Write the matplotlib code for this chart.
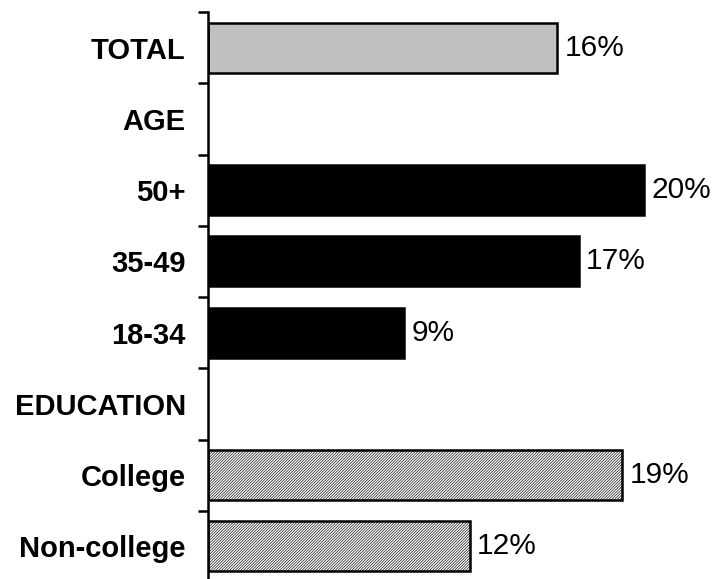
import numpy as np
import matplotlib
matplotlib.use('Agg')
import matplotlib.pyplot as plt

plt.rcParams['font.family'] = ['Liberation Sans', 'DejaVu Sans']
plt.rcParams['hatch.linewidth'] = 0.45
plt.rcParams['hatch.color'] = 'black'

# Share of respondents by group; header rows carry no value
categories = ["TOTAL", "AGE", "50+", "35-49", "18-34", "EDUCATION", "College", "Non-college"]
values = [16, np.nan, 20, 17, 9, np.nan, 19, 12]
groups = ["total", None, "age", "age", "age", None, "edu", "edu"]

styles = {
    "total": dict(color="#c0c0c0", hatch=None),
    "age": dict(color="black", hatch=None),
    "edu": dict(color="white", hatch="/" * 12),
}

fig = plt.figure(figsize=(7.13, 5.79), dpi=100)
ax = fig.add_axes([208 / 713, -3 / 579, 505 / 713, 570 / 579])

y = np.arange(len(categories))
for yi, val, grp in zip(y, values, groups):
    if grp is None or np.isnan(val):
        continue
    st = styles[grp]
    ax.barh(yi, val, height=0.7, color=st["color"], hatch=st["hatch"],
            edgecolor="black", linewidth=1.8)
    ax.text(val + 0.35, yi, f"{val:.0f}%", va="center", ha="left", fontsize=21.5)

ax.set_xlim(0, 505 / 21.8)
ax.set_ylim(len(categories) - 0.5, -0.5)

ax.set_yticks(y)
ax.set_yticklabels(categories, fontsize=21, fontweight="bold")
ax.tick_params(axis="y", which="major", length=0, pad=16)
ax.set_yticks(np.arange(len(categories)) - 0.5, minor=True)
ax.tick_params(axis="y", which="minor", length=7, width=1.8, direction="out")
ax.set_xticks([])

for side in ["top", "right", "bottom"]:
    ax.spines[side].set_visible(False)
ax.spines["left"].set_linewidth(1.8)

fig.savefig("out.png", dpi=100)
